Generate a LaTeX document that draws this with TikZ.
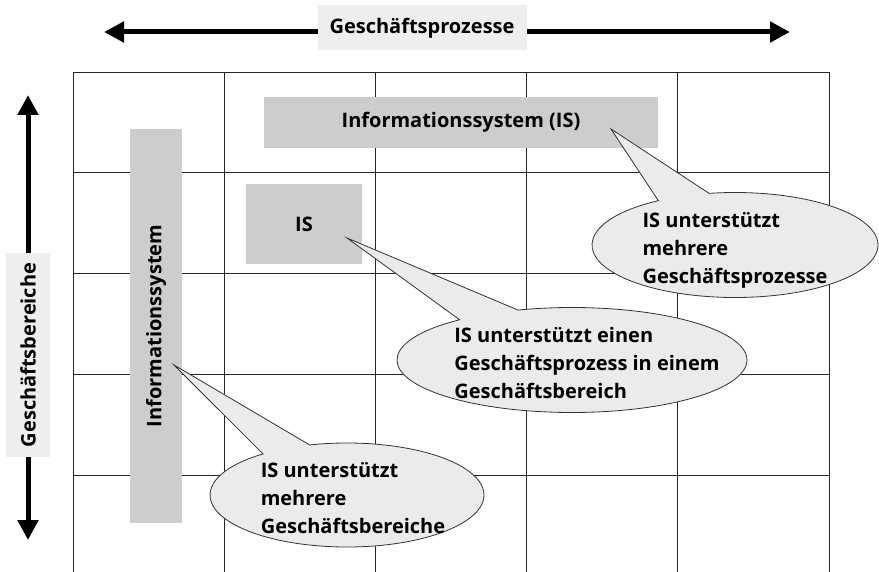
\documentclass[tikz,border=0pt]{standalone}
\usepackage{fontspec}
\setmainfont{Open Sans}
\usetikzlibrary{arrows.meta,shapes.callouts}
\definecolor{boxgray}{HTML}{CDCDCD}
\definecolor{bubblegray}{HTML}{EBEBEB}
\definecolor{labelgray}{HTML}{EEEEEE}
\newcommand{\bubbletext}[2][0pt]{\smash{\makebox[0pt]{\kern#1\kern#1\raisebox{-10pt}{\begin{tabular}{@{}l@{}}#2\end{tabular}}}}}

\begin{document}
\begin{tikzpicture}[x=1pt,y=-1pt,
		every node/.style={font=\fontsize{20}{28}\selectfont\bfseries},
		isbox/.style={fill=boxgray, inner sep=0pt},
		axislabel/.style={fill=labelgray, inner sep=0pt},
		bubble/.style={ellipse callout, draw=black!80, line width=0.8pt, fill=bubblegray, inner sep=0pt, callout pointer arc=22},
		bigarrow/.style={line width=5pt, {Triangle[length=20pt,width=20pt]}-{Triangle[length=20pt,width=20pt]}},
		gridline/.style={line width=0.8pt, black!85}]
		\useasboundingbox (0,0) rectangle (879,572);
		\foreach \i in {0,...,5}
		{
			\draw[gridline] (73+151.2*\i,72) -- (73+151.2*\i,572);
		}
		\foreach \j in {0,...,4}
		{
			\draw[gridline] (73,72+100.75*\j) -- (829.0,72+100.75*\j);
		}
		\coordinate (pleft) at (104,32);
		\coordinate (pright) at (790,32);
		\coordinate (btop) at (28,95);
		\coordinate (bbottom) at (28,540);
		\draw[bigarrow] (pleft) -- (pright);
		\draw[bigarrow] (btop) -- (bbottom);
		\node[axislabel, minimum width=209pt, minimum height=45pt] (prozesse) at (422,28) {Geschäftsprozesse};
		\node[axislabel, rotate=90, minimum width=204pt, minimum height=44pt] (bereiche) at (28,355) {Geschäftsbereiche};
		\node[isbox, minimum width=394pt, minimum height=51pt] (isquer) at (461,122.5) {Informationssystem (IS)};
		\node[isbox, minimum width=116pt, minimum height=80pt] (iseinzeln) at (304,224) {IS};
		\node[isbox, rotate=90, minimum width=394pt, minimum height=52pt] (islaengs) at (156,326) {Informationssystem};
		\coordinate (tipquer) at (611,129);
		\coordinate (tipeinzeln) at (347,238);
		\coordinate (tiplaengs) at (174,365);
		\node[bubble, minimum width=286pt, minimum height=105pt, callout absolute pointer={(tipquer)}] (bubblequer) at (735,245) {\bubbletext{IS unterstützt\\mehrere\\Geschäftsprozesse}};
		\node[bubble, minimum width=350pt, minimum height=105pt, callout absolute pointer={(tipeinzeln)}] (bubbleeinzeln) at (572,360) {\bubbletext[15pt]{IS unterstützt einen\\Geschäftsprozess in einem\\Geschäftsbereich}};
		\node[bubble, minimum width=274pt, minimum height=104pt, callout absolute pointer={(tiplaengs)}] (bubblelaengs) at (347,495) {\bubbletext[6pt]{IS unterstützt\\mehrere\\Geschäftsbereiche}};
\end{tikzpicture}
\end{document}
